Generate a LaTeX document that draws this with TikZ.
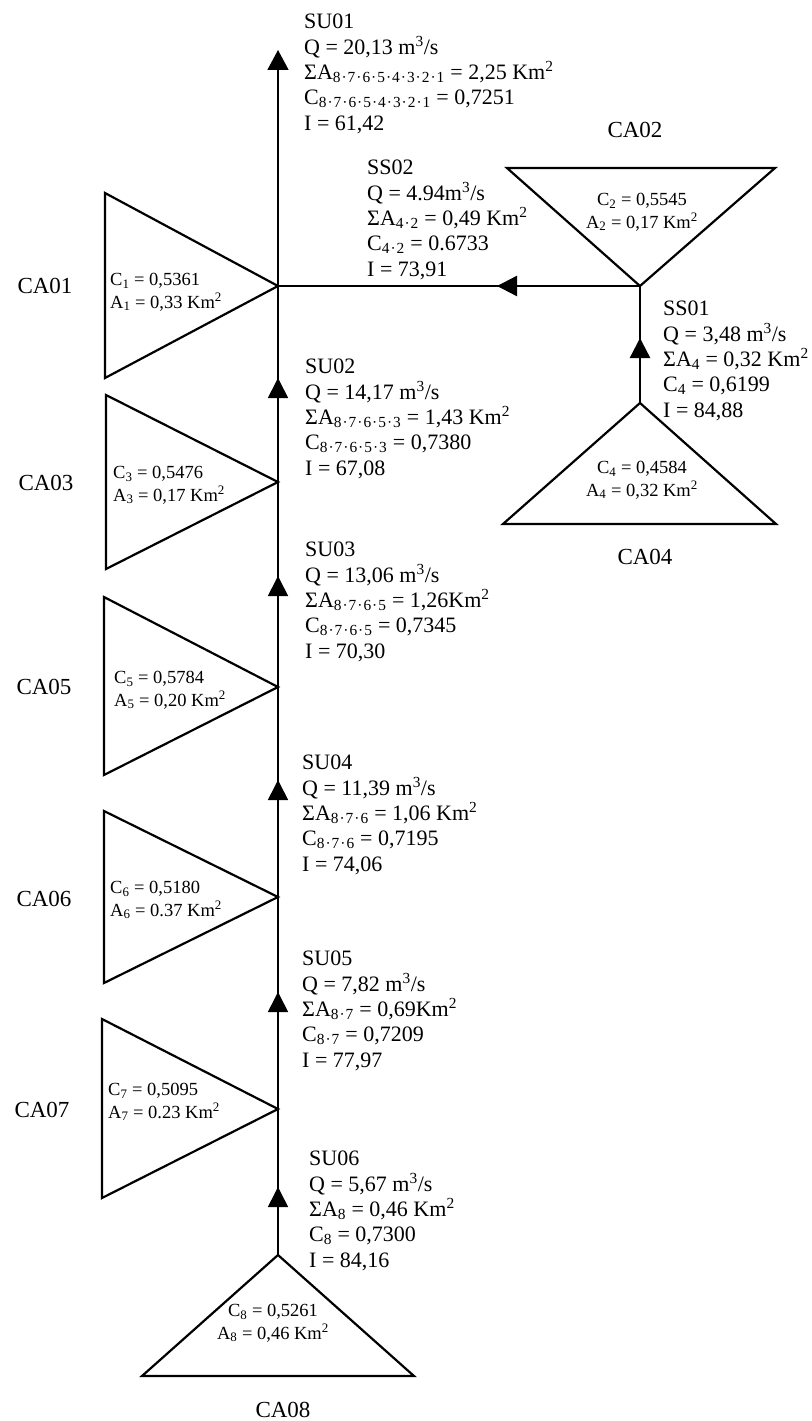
\documentclass[tikz,border=0pt]{standalone}
\usepackage{fontspec}
\setmainfont{Liberation Serif}
\usetikzlibrary{arrows.meta,decorations.markings}
\newcommand{\kmsq}{Km\textsuperscript{2}}
\newcommand{\flow}{m\textsuperscript{3}/s}
\newcommand{\mdot}{\kern1pt·\kern1pt}
\tikzset{
  basin/.style={draw, line width=2.2pt, line join=miter},
  stream/.style={line width=1.7pt},
  branch/.style={line width=2.4pt},
  flowmark/.style={postaction={decorate}, decoration={markings,
      mark=at position #1 with {\arrow{Triangle[length=20pt,width=20pt]}}}},
  info/.style={anchor=north west, inner sep=0pt, align=left, font=\fontsize{22}{25.3}\selectfont},
  basintext/.style={inner sep=0pt, align=left, font=\fontsize{18.5}{22.5}\selectfont},
  basinlabel/.style={inner sep=0pt, font=\fontsize{23}{27}\selectfont}
}

\begin{document}
\begin{tikzpicture}[x=1pt, y=-1pt]
  \useasboundingbox (0,0) rectangle (811,1421);

  %--- Junctions on the main stream ---
  \coordinate (out) at (278,50);
  \coordinate (j1) at (278,286);
  \coordinate (j3) at (278,482);
  \coordinate (j5) at (278,687);
  \coordinate (j6) at (278,897);
  \coordinate (j7) at (278,1109);
  \coordinate (ca8) at (278,1255);
  % side branch
  \coordinate (j2) at (640,286);
  \coordinate (ca4) at (640,403);

  %--- Catchments ---
  % CA01
  \draw[basin] (105,193) -- (j1) -- (105,378) -- cycle;
  \node[basintext, anchor=north west] (c1) at (110,273) {C\textsubscript{1} = 0,5361\\A\textsubscript{1} = 0,33 \kmsq};
  \node[basinlabel] (l1) at (45,286) {CA01};

  % CA02
  \draw[basin] (507,168) -- (775,168) -- (j2) -- cycle;
  \node[basintext, anchor=north, align=center] (c2) at (642,193) {C\textsubscript{2} = 0,5545\\A\textsubscript{2} = 0,17 \kmsq};
  \node[basinlabel] (l2) at (635,130) {CA02};

  % CA03
  \draw[basin] (106,395) -- (j3) -- (106,569) -- cycle;
  \node[basintext, anchor=north west] (c3) at (113,466) {C\textsubscript{3} = 0,5476\\A\textsubscript{3} = 0,17 \kmsq};
  \node[basinlabel] (l3) at (46,483) {CA03};

  % CA04
  \draw[basin] (503,524) -- (ca4) -- (776,524) -- cycle;
  \node[basintext, anchor=north, align=center] (c4) at (642,461) {C\textsubscript{4} = 0,4584\\A\textsubscript{4} = 0,32 \kmsq};
  \node[basinlabel] (l4) at (645,557) {CA04};

  % CA05
  \draw[basin] (104,597) -- (j5) -- (104,775) -- cycle;
  \node[basintext, anchor=north west] (c5) at (114,671) {C\textsubscript{5} = 0,5784\\A\textsubscript{5} = 0,20 \kmsq};
  \node[basinlabel] (l5) at (44,687) {CA05};

  % CA06
  \draw[basin] (104,811) -- (j6) -- (104,983) -- cycle;
  \node[basintext, anchor=north west] (c6) at (110,881) {C\textsubscript{6} = 0,5180\\A\textsubscript{6} = 0.37 \kmsq};
  \node[basinlabel] (l6) at (44,899) {CA06};

  % CA07
  \draw[basin] (102,1019) -- (j7) -- (102,1198) -- cycle;
  \node[basintext, anchor=north west] (c7) at (108,1083) {C\textsubscript{7} = 0,5095\\A\textsubscript{7} = 0.23 \kmsq};
  \node[basinlabel] (l7) at (42,1110) {CA07};

  % CA08
  \draw[basin] (142,1376) -- (ca8) -- (414,1376) -- cycle;
  \node[basintext, anchor=north, align=center] (c8) at (273,1304) {C\textsubscript{8} = 0,5261\\A\textsubscript{8} = 0,46 \kmsq};
  \node[basinlabel] (l8) at (283,1410) {CA08};

  %--- Stream reaches ---
  \draw[stream, flowmark=68pt] (ca8) -- (j7);
  \draw[stream, flowmark=117pt] (j7) -- (j6);
  \draw[stream, flowmark=117pt] (j6) -- (j5);
  \draw[stream, flowmark=111pt] (j5) -- (j3);
  \draw[stream, flowmark=104pt] (j3) -- (j1);
  \draw[stream, -{Triangle[length=20pt,width=21pt]}] (j1) -- (out);
  \draw[branch, flowmark=65pt] (ca4) -- (j2);
  \draw[branch, flowmark=143pt] (j2) -- (j1);

  %--- Reach data ---
  \node[info] (su01) at (304,14) {SU01\\Q = 20,13 \flow\\ΣA\textsubscript{8\mdot7\mdot6\mdot5\mdot4\mdot3\mdot2\mdot1} = 2,25 \kmsq\\C\textsubscript{8\mdot7\mdot6\mdot5\mdot4\mdot3\mdot2\mdot1} = 0,7251\\I = 61,42};
  \node[info] (ss02) at (367,160) {SS02\\Q = 4.94\flow\\ΣA\textsubscript{4\mdot2} = 0,49 \kmsq\\C\textsubscript{4\mdot2} = 0.6733\\I = 73,91};
  \node[info] (ss01) at (663,301) {SS01\\Q = 3,48 \flow\\ΣA\textsubscript{4} = 0,32 \kmsq\\C\textsubscript{4} = 0,6199\\I = 84,88};
  \node[info] (su02) at (305,359) {SU02\\Q = 14,17 \flow\\ΣA\textsubscript{8\mdot7\mdot6\mdot5\mdot3} = 1,43 \kmsq\\C\textsubscript{8\mdot7\mdot6\mdot5\mdot3} = 0,7380\\I = 67,08};
  \node[info] (su03) at (305,542) {SU03\\Q = 13,06 \flow\\ΣA\textsubscript{8\mdot7\mdot6\mdot5} = 1,26\kmsq\\C\textsubscript{8\mdot7\mdot6\mdot5} = 0,7345\\I = 70,30};
  \node[info] (su04) at (302,755) {SU04\\Q = 11,39 \flow\\ΣA\textsubscript{8\mdot7\mdot6} = 1,06 \kmsq\\C\textsubscript{8\mdot7\mdot6} = 0,7195\\I = 74,06};
  \node[info] (su05) at (302,951) {SU05\\Q = 7,82 \flow\\ΣA\textsubscript{8\mdot7} = 0,69\kmsq\\C\textsubscript{8\mdot7} = 0,7209\\I = 77,97};
  \node[info] (su06) at (309,1151) {SU06\\Q = 5,67 \flow\\ΣA\textsubscript{8} = 0,46 \kmsq\\C\textsubscript{8} = 0,7300\\I = 84,16};
\end{tikzpicture}
\end{document}
